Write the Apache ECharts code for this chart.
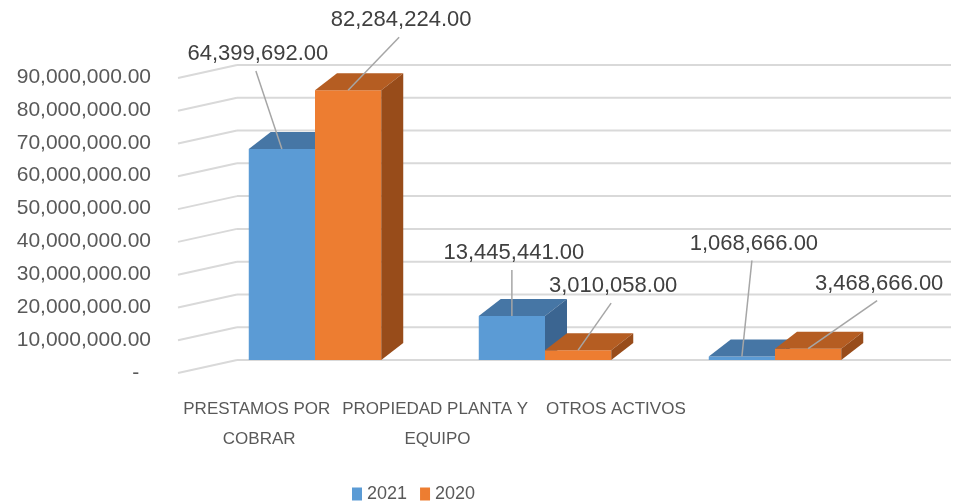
<!DOCTYPE html>
<html>
<head>
<meta charset="utf-8">
<script src="https://cdn.jsdelivr.net/npm/echarts@6/dist/echarts.min.js"></script>
<style>html,body{margin:0;padding:0;background:#fff}#c{width:966px;height:502px}</style>
</head>
<body>
<div id="c"></div>
<script>
// ---- data ----
const categories = ['PRESTAMOS POR COBRAR', 'PROPIEDAD PLANTA Y EQUIPO', 'OTROS ACTIVOS'];
const seriesNames = ['2021', '2020'];
const values2021 = [64399692, 13445441, 1068666];
const values2020 = [82284224, 3010058, 3468666];
const yTicks = [0, 10000000, 20000000, 30000000, 40000000, 50000000, 60000000, 70000000, 80000000, 90000000];

// ---- style / layout ----
const labelOffsets2021 = [[-24, -95], [2, -63], [12, -113]];
const labelOffsets2020 = [[53, -70], [35, -64], [71, -65]];
const colors = {
  '2021': { front: '#5b9bd5', top: '#4676a5', side: '#3b6591' },
  '2020': { front: '#ed7d31', top: '#b55d22', side: '#984c1a' }
};
const DX = 22, DY = -17;
const fmt = v => v === 0 ? '-  ' : v.toLocaleString('en-US', { minimumFractionDigits: 2, maximumFractionDigits: 2 });

const chart = echarts.init(document.getElementById('c'));

function barRender(seriesKey, offsets) {
  return function (params, api) {
    const ci = api.value(0), v = api.value(1);
    const band = api.size([1, 0])[0];
    const bw = band * 0.288;
    const top = api.coord([ci, v]);
    const base = api.coord([ci, 0]);
    const x0 = seriesKey === '2021' ? top[0] - bw : top[0];
    const y1 = top[1], y0 = base[1];
    const c = colors[seriesKey];
    const off = offsets[ci];
    const ax = x0 + bw / 2, ay = y1;
    const tx = ax + off[0], ty = ay + off[1];
    return {
      type: 'group',
      children: [
        { type: 'rect', shape: { x: x0, y: y1, width: bw, height: y0 - y1 }, style: { fill: c.front } },
        { type: 'polygon', shape: { points: [[x0, y1], [x0 + DX, y1 + DY], [x0 + bw + DX, y1 + DY], [x0 + bw, y1]] }, style: { fill: c.top } },
        { type: 'polygon', shape: { points: [[x0 + bw, y1], [x0 + bw + DX, y1 + DY], [x0 + bw + DX, y0 + DY], [x0 + bw, y0]] }, style: { fill: c.side } },
        { type: 'line', shape: { x1: tx - 2, y1: ty + 17, x2: ax, y2: ay }, style: { stroke: '#a6a6a6', lineWidth: 1.5 }, z2: 5 },
        { type: 'text', x: tx, y: ty, style: { text: fmt(v), fill: '#404040', font: '22px "Liberation Sans", Arial, sans-serif', align: 'center', verticalAlign: 'middle' }, z2: 6 }
      ]
    };
  };
}

function wallRender(params, api) {
  const v = api.value(0);
  const cs = params.coordSys;
  const y = api.coord([0, v])[1];
  const xl = cs.x + 37;
  const xr = cs.x + cs.width + 61;
  return {
    type: 'group',
    children: [
      { type: 'line', shape: { x1: xl, y1: y, x2: xr, y2: y }, style: { stroke: '#d9d9d9', lineWidth: 2 } },
      { type: 'line', shape: { x1: xl, y1: y, x2: xl - 59, y2: y + 13 }, style: { stroke: '#d9d9d9', lineWidth: 2 } }
    ]
  };
}

const option = {
  animation: false,
  backgroundColor: '#ffffff',
  legend: {
    data: seriesNames,
    left: 347, top: 480,
    itemWidth: 10, itemHeight: 13, itemGap: 13,
    icon: 'rect',
    textStyle: { color: '#595959', fontSize: 18, fontFamily: '"Liberation Sans", Arial, sans-serif' }
  },
  grid: [
    { left: 200, width: 690, top: 65, bottom: 142 },
    { left: 170, width: 535, top: 77, bottom: 129 }
  ],
  xAxis: [
    { type: 'category', gridIndex: 0, data: categories, show: false },
    {
      type: 'category', gridIndex: 1, data: categories,
      axisLine: { show: false }, axisTick: { show: false },
      axisLabel: {
        interval: 0, margin: 21, color: '#595959', fontSize: 17, lineHeight: 30,
        fontFamily: '"Liberation Sans", Arial, sans-serif',
        width: 194, overflow: 'break'
      }
    }
  ],
  yAxis: [
    { type: 'value', gridIndex: 0, min: 0, max: 90000000, interval: 10000000, show: false },
    {
      type: 'value', gridIndex: 1, min: 0, max: 90000000, interval: 10000000,
      axisLine: { show: false }, axisTick: { show: false }, splitLine: { show: false },
      axisLabel: { margin: 19, color: '#595959', fontSize: 21, fontFamily: '"Liberation Sans", Arial, sans-serif', formatter: fmt }
    }
  ],
  series: [
    { type: 'custom', name: 'wall', xAxisIndex: 0, yAxisIndex: 0, data: yTicks.map(v => [v]), renderItem: wallRender, silent: true, z: 1, itemStyle: { color: '#d9d9d9' } },
    { type: 'custom', name: seriesNames[0], xAxisIndex: 0, yAxisIndex: 0, data: values2021.map((v, i) => [i, v]), renderItem: barRender('2021', labelOffsets2021), z: 2, itemStyle: { color: colors['2021'].front } },
    { type: 'custom', name: seriesNames[1], xAxisIndex: 0, yAxisIndex: 0, data: values2020.map((v, i) => [i, v]), renderItem: barRender('2020', labelOffsets2020), z: 3, itemStyle: { color: colors['2020'].front } }
  ]
};
chart.setOption(option);
</script>
</body>
</html>
